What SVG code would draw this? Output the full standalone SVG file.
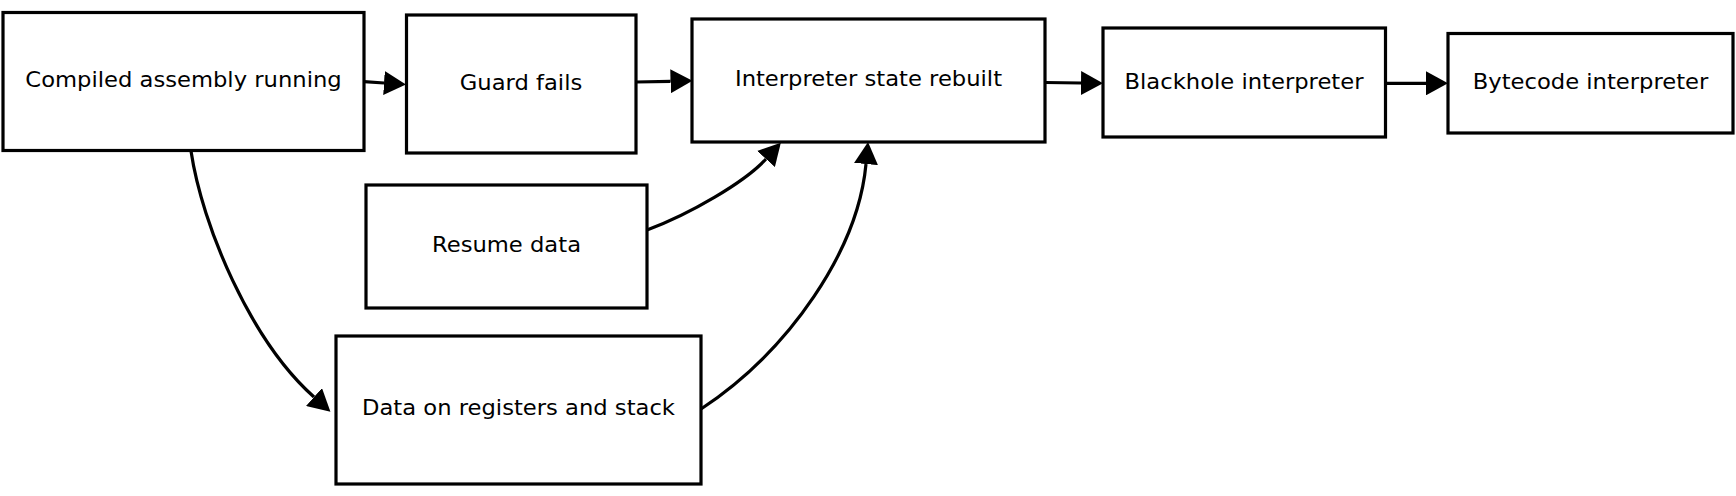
<svg xmlns="http://www.w3.org/2000/svg" width="1736" height="496" viewBox="0 0 1736 496">
  <style>
    .box { fill: #ffffff; stroke: #000000; stroke-width: 3.2; }
    .lbl { font-family: "DejaVu Sans", "Liberation Sans", sans-serif; font-size: 20.6px; fill: #000000; text-anchor: middle; }
    .edge { fill: none; stroke: #000000; stroke-width: 3.2; marker-end: url(#arrow); }
  </style>
  <defs>
    <marker id="arrow" markerUnits="userSpaceOnUse" viewBox="0 0 22 24" refX="0" refY="12" markerWidth="22" markerHeight="24" orient="auto">
      <path d="M0,0 L22,12 L0,24 z" fill="#000000"/>
    </marker>
  </defs>
  <rect width="1736" height="496" fill="#ffffff"/>

  <g id="connectors">
    <path class="edge" d="M364,81.7 L384,83"/>
    <path class="edge" d="M636,82 L670.5,81.3"/>
    <path class="edge" d="M1045,82.5 L1081,83"/>
    <path class="edge" d="M1385.5,83.3 L1426,83.3"/>
    <path class="edge" d="M647,230 C690,214 745,182 766,159"/>
    <path class="edge" d="M701,409 C790,350 858,250 866,164"/>
    <path class="edge" d="M191,151 C202,225 250,340 314,397"/>
  </g>

  <g id="compiled">
    <rect class="box" x="3" y="12.5" width="361" height="138"/>
    <text class="lbl" transform="translate(183.5 87.3) scale(1.1 1)">Compiled assembly running</text>
  </g>
  <g id="guard">
    <rect class="box" x="406.5" y="15" width="229.5" height="138"/>
    <text class="lbl" transform="translate(521 90) scale(1.1 1)">Guard fails</text>
  </g>
  <g id="interp_state">
    <rect class="box" x="692" y="19" width="353" height="123"/>
    <text class="lbl" transform="translate(868.5 86) scale(1.1 1)">Interpreter state rebuilt</text>
  </g>
  <g id="blackhole">
    <rect class="box" x="1103" y="28" width="282.5" height="109"/>
    <text class="lbl" transform="translate(1244 88.5) scale(1.1 1)">Blackhole interpreter</text>
  </g>
  <g id="bytecode">
    <rect class="box" x="1448" y="33.5" width="285" height="99.5"/>
    <text class="lbl" transform="translate(1590.5 89) scale(1.1 1)">Bytecode interpreter</text>
  </g>
  <g id="resume">
    <rect class="box" x="366" y="185" width="281" height="123"/>
    <text class="lbl" transform="translate(506.5 252.3) scale(1.1 1)">Resume data</text>
  </g>
  <g id="data">
    <rect class="box" x="336" y="336" width="365" height="148"/>
    <text class="lbl" transform="translate(518.5 414.5) scale(1.1 1)">Data on registers and stack</text>
  </g>
</svg>
